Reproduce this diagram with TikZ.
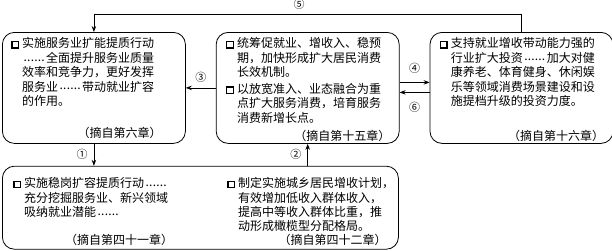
\documentclass[tikz,border=0pt]{standalone}
\usepackage{fontspec}
\setmainfont{Noto Sans CJK SC}
\usepackage{tikz}
\usetikzlibrary{arrows.meta, positioning}

% hollow square bullet
\newcommand\sqb{\raisebox{0.6pt}{\setlength\fboxrule{1.3pt}\setlength\fboxsep{0pt}%
  \fbox{\rule{0pt}{5.2pt}\rule{5.2pt}{0pt}}}}
\newcommand\bul{\makebox[11pt][l]{\sqb}}
% full-width ellipsis, two em wide
\newcommand\ldts{\raisebox{1.2pt}{\makebox[24pt][s]{\hspace{1.5pt}.\hfill.\hfill.\hfill.\hfill.\hfill.\hspace{1.5pt}}}}

\begin{document}
\begin{tikzpicture}[
  x=1pt, y=1pt,
  panel/.style={draw, rounded corners=12pt, line width=0.8pt,
    minimum width=183pt, minimum height=111pt, inner sep=0pt},
  txt/.style={inner sep=0pt, align=left, font=\fontsize{12}{14.2}\selectfont},
  src/.style={inner sep=0pt, text depth=0pt, font=\fontsize{12}{14.2}\selectfont},
  num/.style={inner sep=0pt, font=\fontsize{11}{12}\selectfont},
  link/.style={-{Stealth[length=6pt, width=4.5pt]}, line width=0.7pt},
]
  \useasboundingbox (0,0) rectangle (612,250);

  % boxes
  \node[panel, anchor=north west] (svc) at (2,218) {};
  \node[panel, right=30pt of svc] (cons) {};
  \node[panel, right=30pt of cons] (inv) {};
  \node[panel, minimum width=396pt, minimum height=83pt,
    below=22pt of svc.south west, anchor=north west] (emp) {};

  % texts
  \node[txt, below right=5.5pt and 9pt of svc.north west] (svcTxt) {%
    \begin{tabular}{@{}l@{}l@{}}
      \bul & 实施服务业扩能提质行动\\
      & \ldts 全面提升服务业质量\\
      & 效率和竞争力，更好发挥\\
      & 服务业\ldts 带动就业扩容\\
      & 的作用。
    \end{tabular}};
  \node[src, above left=6.5pt and 24pt of svc.south east] (svcSrc) {（摘自第六章）};

  \node[txt, below right=5.5pt and 10pt of cons.north west] (consTxt) {%
    \begin{tabular}{@{}l@{}l@{}}
      \bul & 统筹促就业、增收入、稳预\\
      & 期，加快形成扩大居民消费\\
      & 长效机制。\\[2.5pt]
      \bul & 以放宽准入、业态融合为重\\
      & 点扩大服务消费，培育服务\\
      & 消费新增长点。
    \end{tabular}};
  \node[src, above left=3.5pt and 9pt of cons.south east] (consSrc) {（摘自第十五章）};

  \node[txt, below right=5.5pt and 10pt of inv.north west] (invTxt) {%
    \begin{tabular}{@{}l@{}l@{}}
      \bul & 支持就业增收带动能力强的\\
      & 行业扩大投资\ldts 加大对健\\
      & 康养老、体育健身、休闲娱\\
      & 乐等领域消费场景建设和设\\
      & 施提档升级的投资力度。
    \end{tabular}};
  \node[src, above left=3.5pt and 9pt of inv.south east] (invSrc) {（摘自第十六章）};

  \node[txt, below right=11.5pt and 11pt of emp.north west] (jobTxt) {%
    \begin{tabular}{@{}l@{}l@{}}
      \bul & 实施稳岗扩容提质行动\ldts\\
      & 充分挖掘服务业、新兴领域\\
      & 吸纳就业潜能\ldts
    \end{tabular}};
  \node[src, above left=4.5pt and 27pt of emp.south] (jobSrc) {（摘自第四十一章）};

  \node[txt, below right=11.5pt and 225pt of emp.north west] (incTxt) {%
    \begin{tabular}{@{}l@{}l@{}}
      \bul & 制定实施城乡居民增收计划，\\
      & 有效增加低收入群体收入，\\
      & 提高中等收入群体比重，推\\
      & 动形成橄榄型分配格局。
    \end{tabular}};
  \node[src, above left=4.5pt and 12pt of emp.south east] (incSrc) {（摘自第四十二章）};

  % connectors
  \draw[link] (svc.south) -- node[num, left=6pt] (n1) {①} (svc.south |- emp.north);
  \draw[link] (cons.south |- emp.north) -- node[num, left=6pt] (n2) {②} (cons.south);
  \draw[link] (cons) -- node[num, above=5pt] (n3) {③} (svc);
  \draw[link] ([yshift=5.5pt]cons.east) -- node[num, above=9pt] (n4) {④} ([yshift=5.5pt]inv.west);
  \draw[link] ([yshift=-4.5pt]inv.west) -- node[num, below=9pt] (n6) {⑥} ([yshift=-4.5pt]cons.east);
  \draw[link] (inv.north) -- ++(0,18) -| node[num, above=4pt, pos=0.26] (n5) {⑤} (svc.north);
\end{tikzpicture}
\end{document}
